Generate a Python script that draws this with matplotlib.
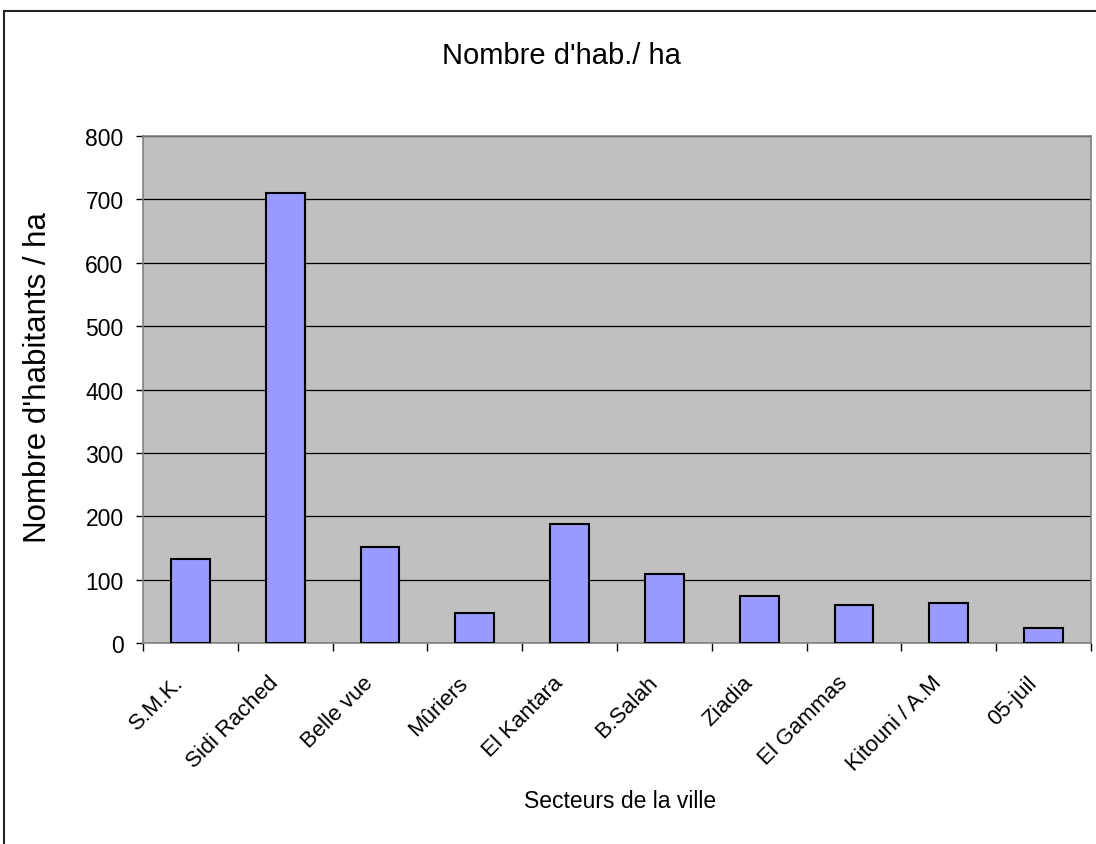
import matplotlib
matplotlib.use("Agg")
import matplotlib.pyplot as plt
from matplotlib.patches import Rectangle
from matplotlib.transforms import ScaledTranslation
import numpy as np

plt.rcParams['font.family'] = ['Liberation Sans', 'DejaVu Sans']

secteurs = ["S.M.K.", "Sidi Rached", "Belle vue", "Mûriers", "El Kantara",
            "B.Salah", "Ziadia", "El Gammas", "Kitouni / A.M", "05-juil"]
densite = [133, 710, 151, 47, 187, 109, 74, 60, 63, 24]
yticks = [0, 100, 200, 300, 400, 500, 600, 700, 800]

W, H = 1096, 845
fig = plt.figure(figsize=(W / 100, H / 100), dpi=100)

# cadre extérieur du graphique
fig.patches.append(Rectangle((4 / W, -0.1), 1.2, 1 - 12 / H + 0.1,
                             transform=fig.transFigure, fill=False,
                             edgecolor='#222222', linewidth=1.5))

ax = fig.add_axes([143 / W, 1 - 644 / H, (1091 - 143) / W, (644 - 137) / H])
ax.set_facecolor('#C0C0C0')

x = np.arange(len(secteurs))
ax.bar(x, densite, width=0.41, color='#9999FF', edgecolor='black',
       linewidth=1.5, zorder=3)

ax.set_xlim(-0.5, len(secteurs) - 0.5)
ax.set_ylim(0, 800)
ax.set_yticks(yticks)
ax.yaxis.grid(True, color='black', linewidth=0.9, zorder=1)
ax.set_axisbelow(True)

for s in ax.spines.values():
    s.set_color('#808080')
    s.set_linewidth(1.2)

ax.tick_params(axis='y', direction='out', length=5, width=1, color='black',
               pad=9, labelsize=16.5)

# libellés au centre des catégories, graduations entre les catégories
ax.set_xticks(x)
ax.set_xticklabels(secteurs, rotation=45, ha='right', va='center',
                   rotation_mode='anchor', fontsize=16)
ax.tick_params(axis='x', which='major', length=0, pad=26)
shift = ScaledTranslation(-10 / 100, 0, fig.dpi_scale_trans)
for lbl in ax.get_xticklabels():
    lbl.set_transform(lbl.get_transform() + shift)
ax.set_xticks(np.arange(len(secteurs) + 1) - 0.5, minor=True)
ax.tick_params(axis='x', which='minor', direction='out', length=5.5,
               width=1, color='black')

fig.text(561 / W, 1 - 56 / H, "Nombre d'hab./ ha", ha='center', va='center',
         fontsize=21)
fig.text(38 / W, 1 - 378 / H, "Nombre d'habitants / ha", rotation=90,
         ha='center', va='center', fontsize=22.5)
fig.text(620 / W, 1 - 802 / H, "Secteurs de la ville", ha='center',
         va='center', fontsize=16.5)

fig.savefig('out.png', dpi=100, facecolor='white')
